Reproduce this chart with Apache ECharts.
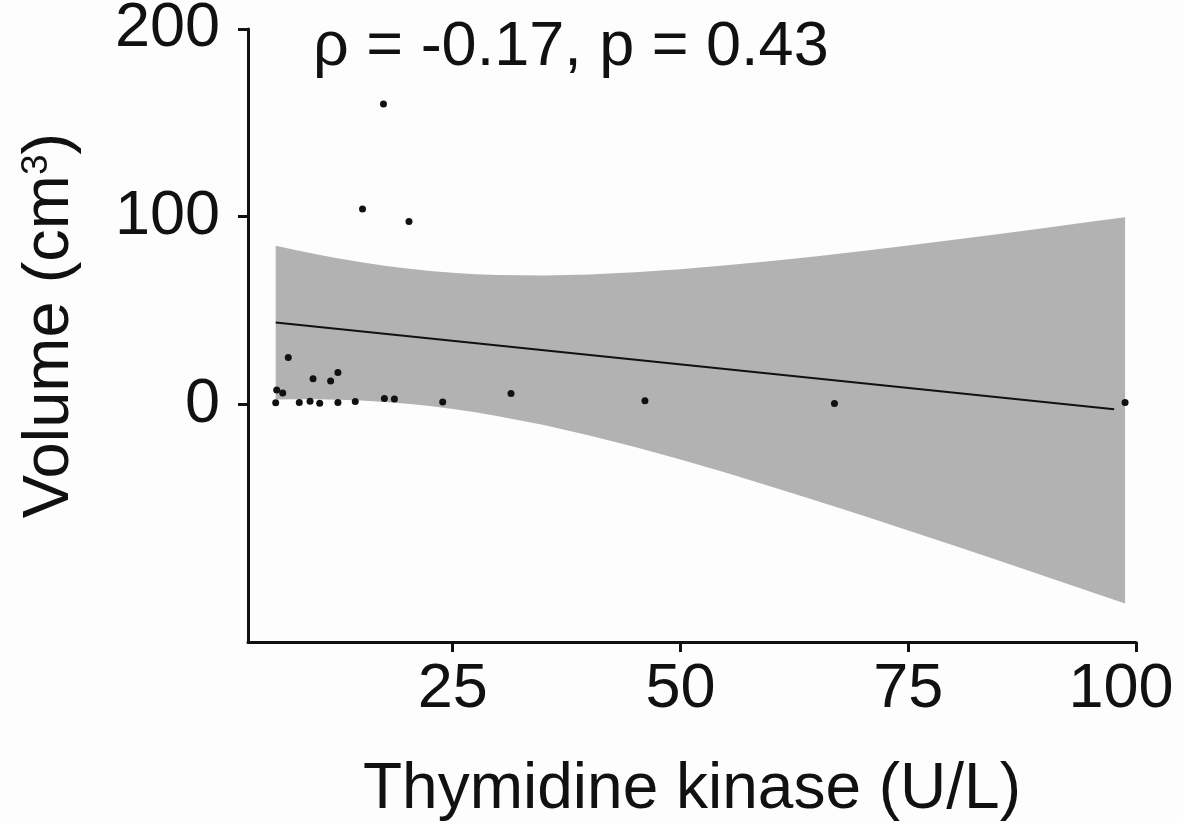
<!DOCTYPE html>
<html>
<head>
<meta charset="utf-8">
<script src="https://cdn.jsdelivr.net/npm/echarts@6/dist/echarts.min.js"></script>
<style>
html, body { margin: 0; padding: 0; background: #fdfdfd; }
#chart { width: 1183px; height: 823px; }
</style>
</head>
<body>
<div id="chart"></div>
<script>
// measured points: thymidine kinase (U/L) vs volume (cm3)
var tkValues = [17.4, 15.1, 20.2, 6.95, 9.67, 11.6, 12.4, 5.68, 6.34, 5.57, 8.16, 9.34, 10.4, 12.4, 14.3, 17.5, 18.6, 23.9, 31.4, 46.1, 66.9, 98.8];
var volValues = [160, 104, 97.4, 24.9, 13.5, 12.4, 16.9, 7.5, 5.9, 0.7, 0.9, 1.6, 0.5, 0.9, 1.4, 3.0, 2.7, 1.2, 5.7, 1.8, 0.3, 0.9];

// fitted line (two ends) and confidence band
var fitX = [5.57, 97.6];
var fitY = [43.5, -2.7];
var bandX = [5.57, 8, 10, 12.5, 15, 17.5, 20, 22.5, 25, 27.5, 30, 35, 40, 45, 50, 55, 60, 65, 70, 75, 80, 85, 90, 95, 98.8];
var bandLower = [2.5, 2.6, 2.6, 2.4, 1.9, 1.2, 0.2, -1.0, -2.6, -4.3, -6.4, -11.1, -16.7, -22.9, -29.5, -36.6, -44.0, -51.6, -59.4, -67.3, -75.3, -83.5, -91.7, -100.0, -106.3];
var bandUpper = [84.5, 81.9, 79.9, 77.7, 75.6, 73.8, 72.3, 71.0, 70.1, 69.3, 68.9, 68.6, 69.1, 70.3, 71.9, 74.0, 76.3, 78.9, 81.7, 84.6, 87.6, 90.7, 93.9, 97.2, 99.7];

var xTicks = [25, 50, 75, 100];
var yTicks = [0, 100, 200];

var font = 'Liberation Sans, Arial, sans-serif';

function pairs(xs, ys) {
  return xs.map(function (x, i) { return [x, ys[i]]; });
}

// band polygon: upper edge left to right, then lower edge back
function renderBand(params, api) {
  if (params.dataIndex !== 0) return null;
  var pts = [];
  for (var i = 0; i < bandX.length; i++) pts.push(api.coord([bandX[i], bandUpper[i]]));
  for (var j = bandX.length - 1; j >= 0; j--) pts.push(api.coord([bandX[j], bandLower[j]]));
  return {
    type: 'polygon',
    shape: { points: pts },
    style: { fill: '#b2b2b2', stroke: null }
  };
}

var chart = echarts.init(document.getElementById('chart'));
chart.setOption({
  backgroundColor: '#fdfdfd',
  animation: false,
  title: {
    text: 'ρ = -0.17, p = 0.43',
    left: 308,
    top: 11,
    textStyle: { fontFamily: font, fontSize: 63, fontWeight: 'normal', color: '#111' }
  },
  grid: { left: 248, right: 47, top: 29, bottom: 181, outerBoundsMode: 'none' },
  xAxis: {
    type: 'value',
    min: 2.53,
    max: 100,
    name: 'Thymidine kinase (U/L)',
    nameLocation: 'middle',
    nameGap: 116,
    nameTextStyle: { fontFamily: font, fontSize: 64, color: '#111' },
    splitLine: { show: false },
    axisLine: { onZero: false, lineStyle: { color: '#111', width: 3 } },
    axisTick: { customValues: xTicks, length: 10, lineStyle: { color: '#111', width: 3 } },
    axisLabel: {
      customValues: xTicks, margin: 16, fontFamily: font, fontSize: 63, color: '#111',
      // last label sits a little left of its tick, as in the original
      formatter: function (v) { return v === 100 ? '{last|100}' : String(v); },
      rich: { last: { fontFamily: font, fontSize: 63, color: '#111', padding: [0, 30, 0, 0] } }
    }
  },
  yAxis: {
    type: 'value',
    min: -126.8,
    max: 200,
    name: 'Volume (cm{s|3})',
    nameLocation: 'middle',
    nameGap: 165,
    nameTextStyle: {
      fontFamily: font, fontSize: 65, color: '#111',
      padding: [0, 0, 0, 20],
      rich: { s: { fontFamily: font, fontSize: 37, color: '#111', verticalAlign: 'top' } }
    },
    splitLine: { show: false },
    axisLine: { show: true, onZero: false, lineStyle: { color: '#111', width: 3 } },
    axisTick: { show: true, customValues: yTicks, length: 10, lineStyle: { color: '#111', width: 3 } },
    axisLabel: { customValues: yTicks, margin: 28, fontFamily: font, fontSize: 63, color: '#111' }
  },
  series: [
    {
      name: 'band',
      type: 'custom',
      renderItem: renderBand,
      data: pairs(bandX, bandUpper),
      silent: true,
      z: 1
    },
    {
      name: 'fit',
      type: 'line',
      data: pairs(fitX, fitY),
      symbol: 'none',
      lineStyle: { color: '#111', width: 2 },
      silent: true,
      z: 2
    },
    {
      name: 'points',
      type: 'scatter',
      data: pairs(tkValues, volValues),
      symbolSize: 7,
      itemStyle: { color: '#111', opacity: 1 },
      z: 3
    }
  ]
});
</script>
</body>
</html>
